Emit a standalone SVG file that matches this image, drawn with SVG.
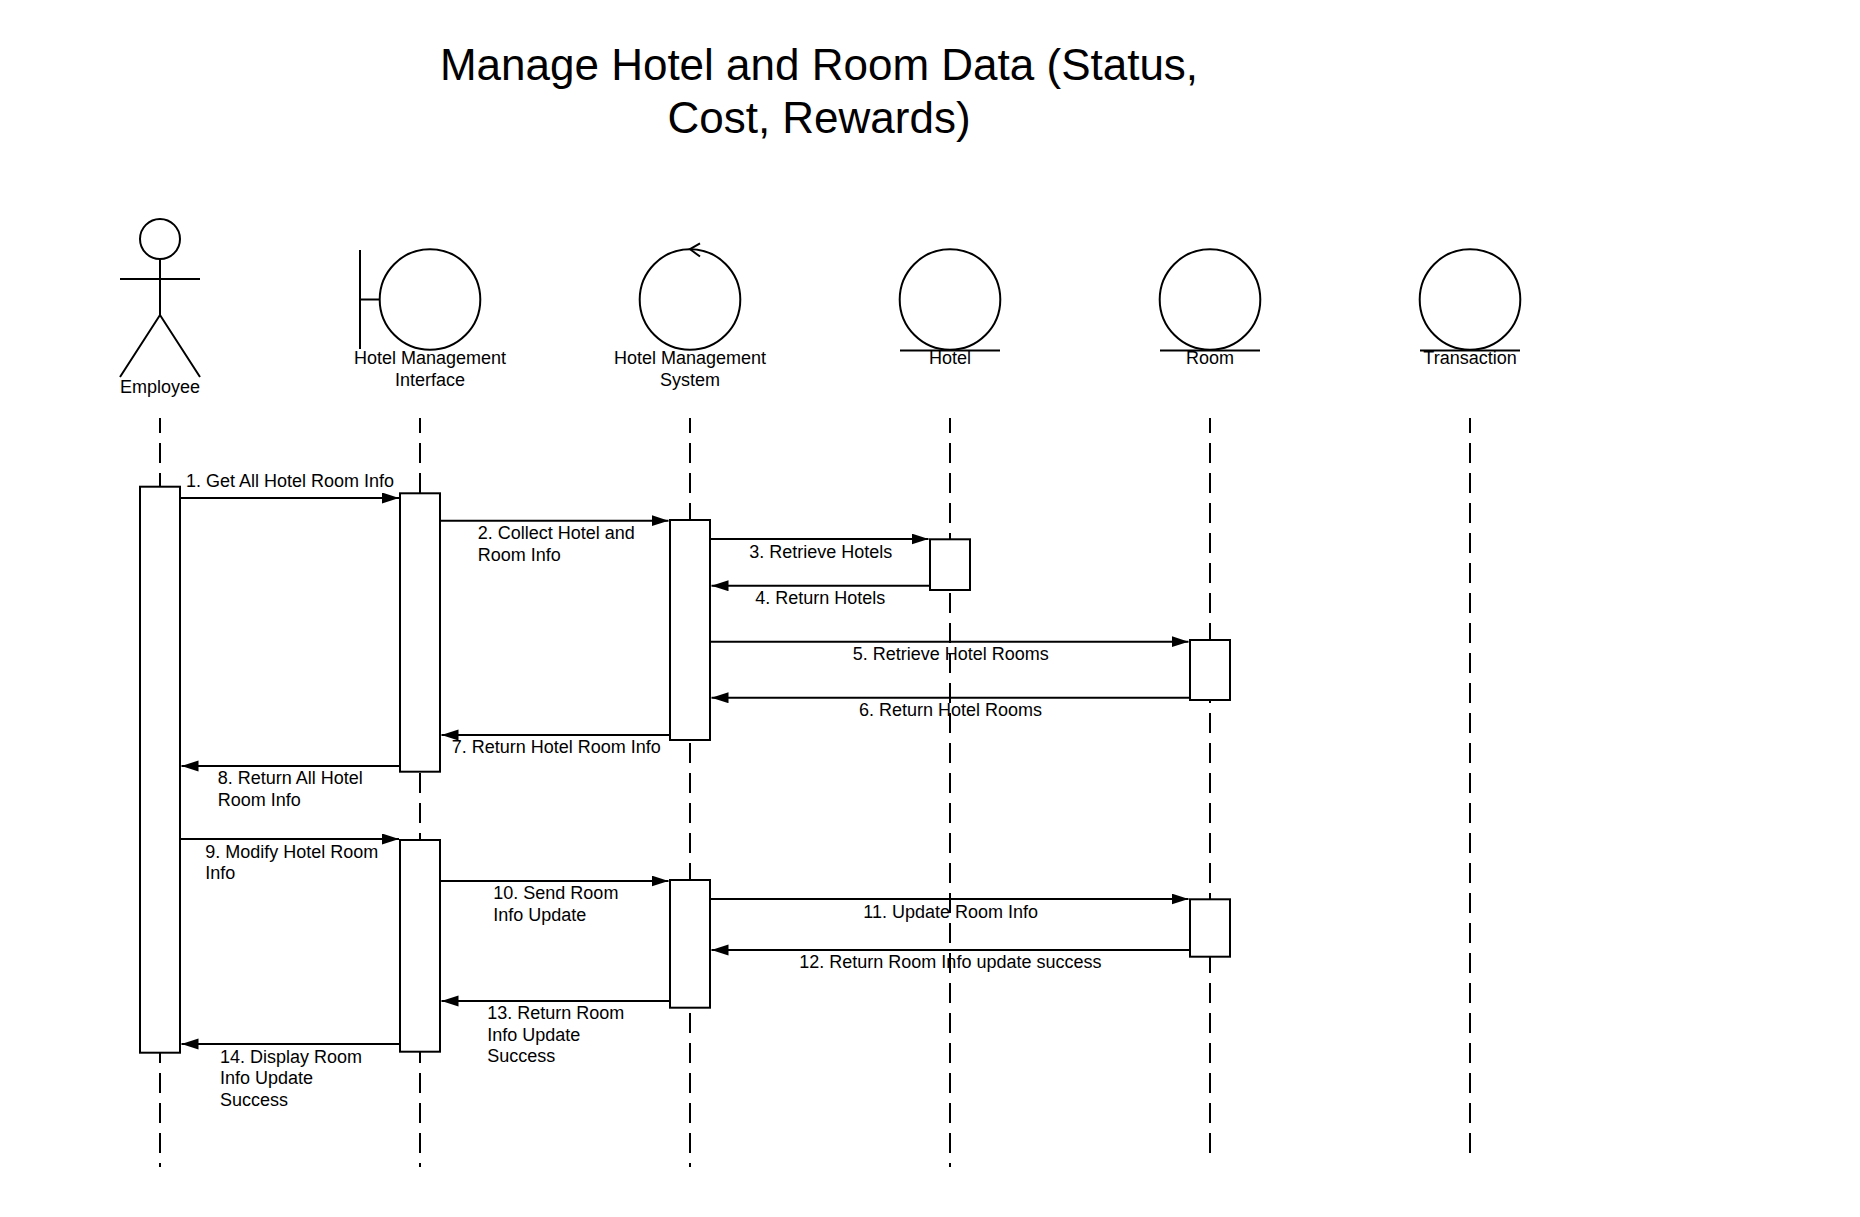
<svg xmlns="http://www.w3.org/2000/svg" width="1860" height="1217" viewBox="0 0 1860 1217">
<defs>
<style>
text{font-family:"Liberation Sans",Arial,sans-serif;fill:#000}
.t{font-size:44px;text-anchor:middle}
.lbl{font-size:18px;text-anchor:middle}
.msg{font-size:18px}
.sh{fill:none;stroke:#000;stroke-width:2}
.life{fill:none;stroke:#000;stroke-width:2;stroke-dasharray:20 10;stroke-dashoffset:5}
.act{fill:#fff;stroke:#000;stroke-width:2}
.m{fill:none;stroke:#000;stroke-width:2;marker-end:url(#ah)}
</style>
<marker id="ah" markerUnits="userSpaceOnUse" markerWidth="18" markerHeight="12" refX="17" refY="5.5" orient="auto">
<path d="M0,0 L17,5.5 L0,11 z" fill="#000"/>
</marker>
</defs>
<rect width="1860" height="1217" fill="#fff"/>
<g id="title">
<text class="t" x="819" y="80">Manage Hotel and Room Data (Status,</text>
<text class="t" x="819" y="133">Cost, Rewards)</text>
</g>
<g id="lifelines">
<line class="life" x1="160" y1="418" x2="160" y2="1167"/>
<line class="life" x1="420" y1="418" x2="420" y2="1167"/>
<line class="life" x1="690" y1="418" x2="690" y2="1167"/>
<line class="life" x1="950" y1="418" x2="950" y2="1167"/>
<line class="life" x1="1210" y1="418" x2="1210" y2="1153"/>
<line class="life" x1="1470" y1="418" x2="1470" y2="1163"/>
</g>
<g id="employee">
<circle class="sh" cx="160" cy="239" r="20"/>
<line class="sh" x1="120" y1="279" x2="200" y2="279"/>
<line class="sh" x1="160" y1="259" x2="160" y2="315"/>
<polyline class="sh" points="120,377 160,315 200,377"/>
<text class="lbl" x="160" y="392.5">Employee</text>
</g>
<g id="hotel-management-interface">
<line class="sh" x1="360" y1="250" x2="360" y2="349"/>
<line class="sh" x1="360" y1="299.5" x2="379.5" y2="299.5"/>
<circle class="sh" cx="430" cy="299.5" r="50.3"/>
<text class="lbl" x="430" y="364.3">Hotel Management</text>
<text class="lbl" x="430" y="385.8">Interface</text>
</g>
<g id="hotel-management-system">
<circle class="sh" cx="690" cy="299.5" r="50.3"/>
<polyline class="sh" points="700,243.3 690,249.2 700,256.5"/>
<text class="lbl" x="690" y="364.3">Hotel Management</text>
<text class="lbl" x="690" y="385.8">System</text>
</g>
<g id="hotel">
<circle class="sh" cx="950" cy="299.5" r="50.3"/>
<line class="sh" x1="900" y1="350.5" x2="1000" y2="350.5"/>
<text class="lbl" x="950" y="364.3">Hotel</text>
</g>
<g id="room">
<circle class="sh" cx="1210" cy="299.5" r="50.3"/>
<line class="sh" x1="1160" y1="350.5" x2="1260" y2="350.5"/>
<text class="lbl" x="1210" y="364.3">Room</text>
</g>
<g id="transaction">
<circle class="sh" cx="1470" cy="299.5" r="50.3"/>
<line class="sh" x1="1420" y1="350.5" x2="1520" y2="350.5"/>
<text class="lbl" x="1470" y="364.3">Transaction</text>
</g>
<g id="activations">
<rect class="act" x="140" y="486.7" width="40" height="566"/>
<rect class="act" x="400" y="493.3" width="40" height="278.4"/>
<rect class="act" x="670" y="520" width="40" height="220"/>
<rect class="act" x="930" y="539.3" width="40" height="50.7"/>
<rect class="act" x="1190" y="640" width="40" height="60"/>
<rect class="act" x="400" y="840" width="40" height="211.7"/>
<rect class="act" x="670" y="880" width="40" height="127.7"/>
<rect class="act" x="1190" y="899.3" width="40" height="57.4"/>
</g>
<g id="connectors">
<line class="m" x1="180" y1="498" x2="399" y2="498"/>
<line class="m" x1="440" y1="520.7" x2="668.5" y2="520.7"/>
<line class="m" x1="710" y1="539" x2="928.5" y2="539"/>
<line class="m" x1="930" y1="585.7" x2="711.5" y2="585.7"/>
<line class="m" x1="710" y1="641.7" x2="1188.5" y2="641.7"/>
<line class="m" x1="1190" y1="697.7" x2="711.5" y2="697.7"/>
<line class="m" x1="670" y1="735" x2="441.5" y2="735"/>
<line class="m" x1="400" y1="766" x2="181.5" y2="766"/>
<line class="m" x1="180" y1="839" x2="399" y2="839"/>
<line class="m" x1="440" y1="881" x2="668.5" y2="881"/>
<line class="m" x1="710" y1="899" x2="1188.5" y2="899"/>
<line class="m" x1="1190" y1="950" x2="711.5" y2="950"/>
<line class="m" x1="670" y1="1001" x2="441.5" y2="1001"/>
<line class="m" x1="400" y1="1044" x2="181.5" y2="1044"/>
</g>
<g id="message-labels">
<text class="msg" x="186" y="486.7">1. Get All Hotel Room Info</text>
<text class="msg" x="477.7" y="539">2. Collect Hotel and</text>
<text class="msg" x="477.7" y="560.7">Room Info</text>
<text class="msg" x="749.3" y="557.7">3. Retrieve Hotels</text>
<text class="msg" x="755.3" y="604">4. Return Hotels</text>
<text class="msg" x="852.7" y="660">5. Retrieve Hotel Rooms</text>
<text class="msg" x="859" y="716">6. Return Hotel Rooms</text>
<text class="msg" x="451.7" y="753">7. Return Hotel Room Info</text>
<text class="msg" x="217.7" y="784">8. Return All Hotel</text>
<text class="msg" x="217.7" y="805.7">Room Info</text>
<text class="msg" x="205.3" y="857.7">9. Modify Hotel Room</text>
<text class="msg" x="205.3" y="879">Info</text>
<text class="msg" x="493.3" y="899.3">10. Send Room</text>
<text class="msg" x="493.3" y="921">Info Update</text>
<text class="msg" x="863.3" y="917.7">11. Update Room Info</text>
<text class="msg" x="799.3" y="967.7">12. Return Room Info update success</text>
<text class="msg" x="487.3" y="1019.3">13. Return Room</text>
<text class="msg" x="487.3" y="1041">Info Update</text>
<text class="msg" x="487.3" y="1062.3">Success</text>
<text class="msg" x="220" y="1062.7">14. Display Room</text>
<text class="msg" x="220" y="1084">Info Update</text>
<text class="msg" x="220" y="1105.7">Success</text>
</g>
</svg>
